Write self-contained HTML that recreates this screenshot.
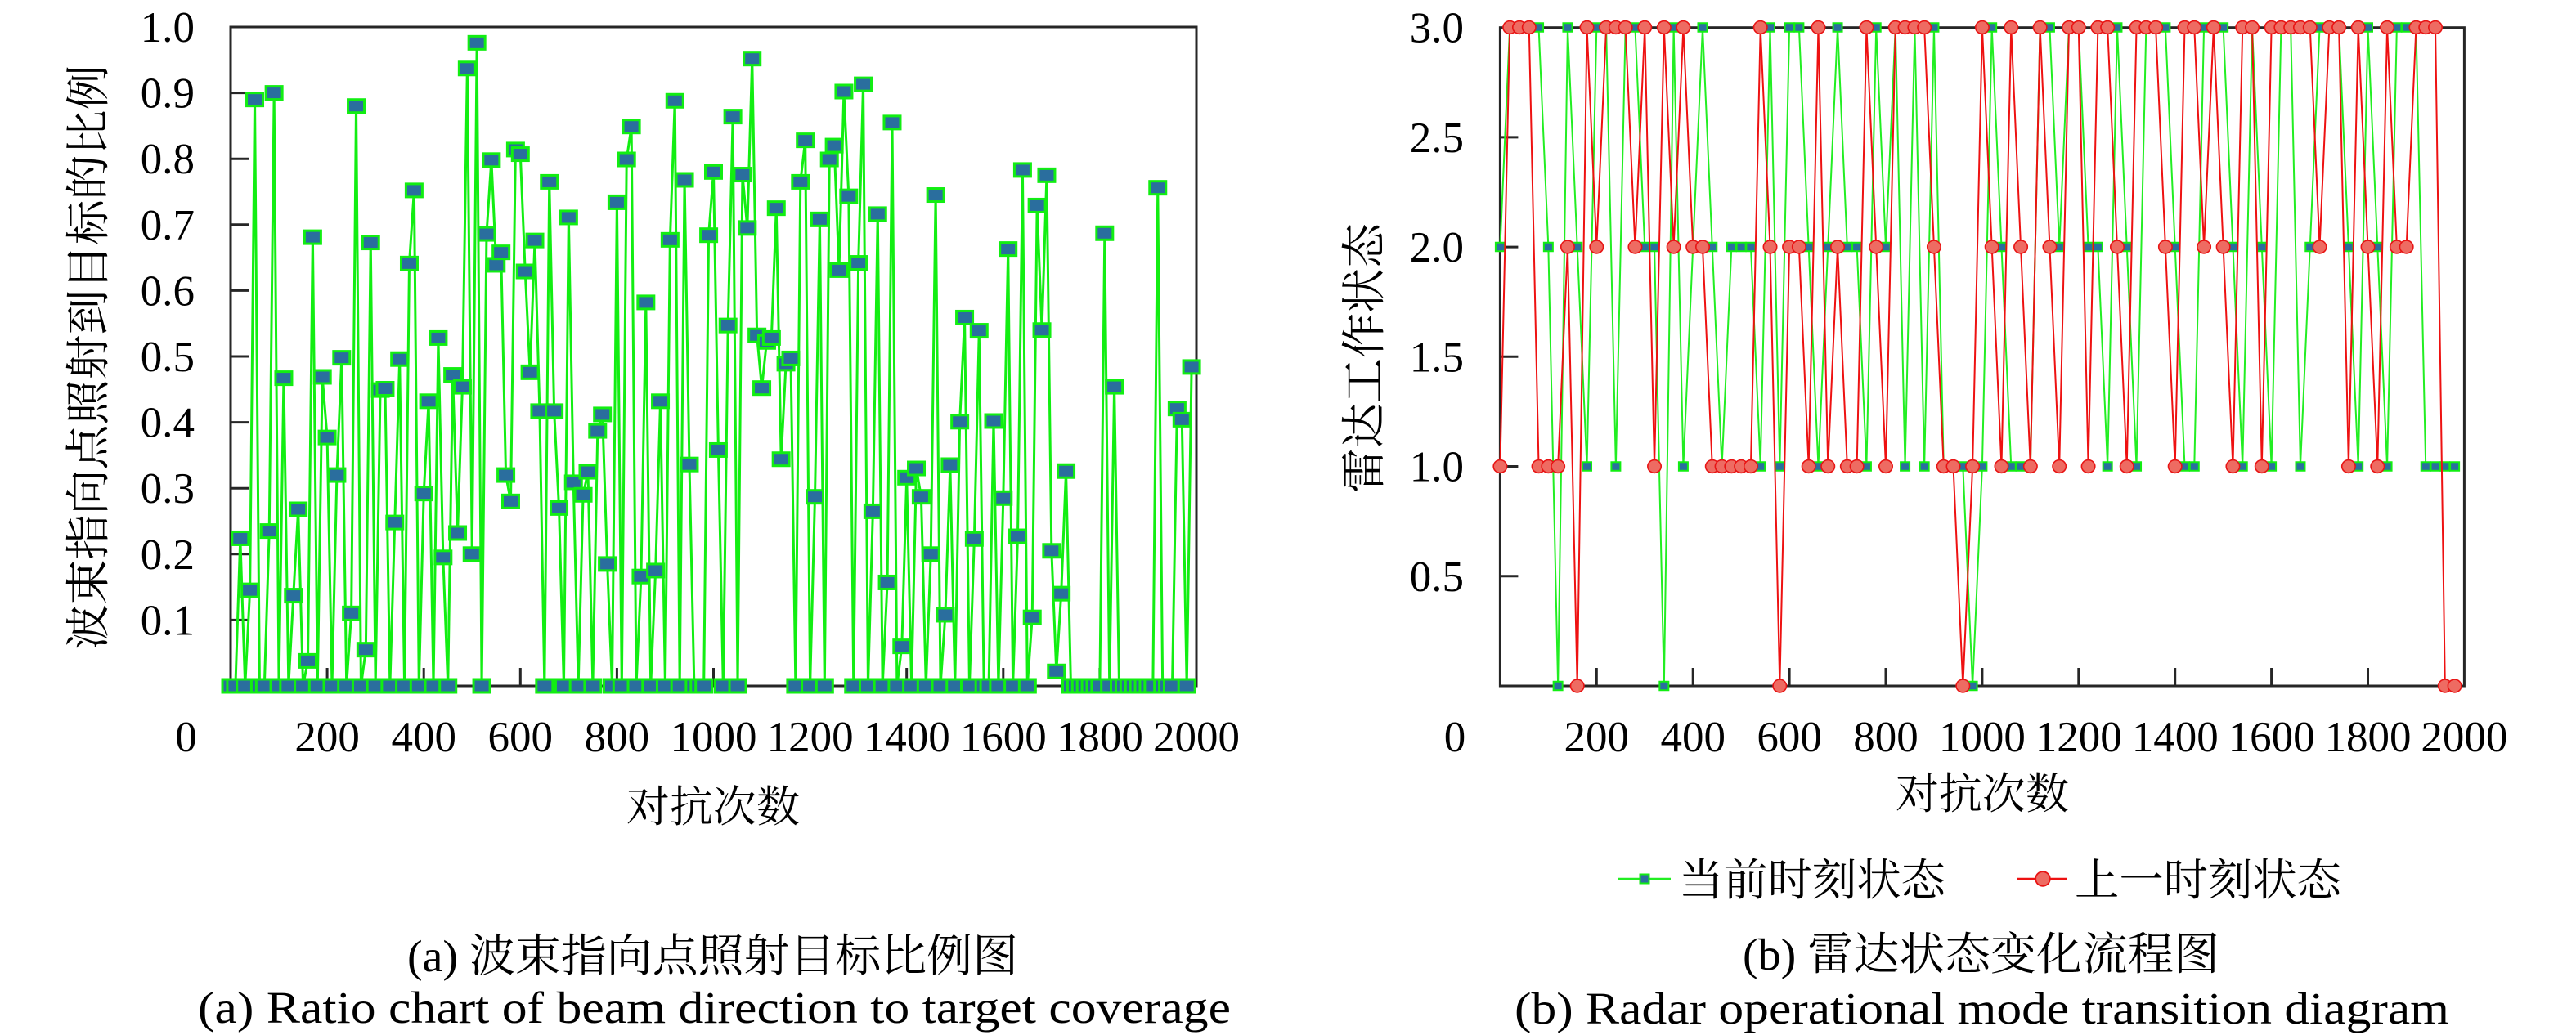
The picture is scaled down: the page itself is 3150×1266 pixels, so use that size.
<!DOCTYPE html>
<html>
<head>
<meta charset="utf-8">
<style>
html,body{margin:0;padding:0;background:#fff;width:3150px;height:1266px;overflow:hidden;}
svg{display:block;}
.t{font-family:"Liberation Serif","Noto Serif CJK SC",serif;fill:#000;}
</style>
</head>
<body>
<svg width="3150" height="1266" viewBox="0 0 3150 1266" xmlns="http://www.w3.org/2000/svg">
<defs>
  <marker id="mL" markerUnits="userSpaceOnUse" markerWidth="40" markerHeight="0.025" viewBox="-20 -0.0125 40 0.025" refX="0" refY="0" orient="0" overflow="visible">
    <rect x="-19.475" y="-0.011785" width="38.95" height="0.02357" fill="#12ee12"/>
    <rect x="-14.395" y="-0.008065" width="28.79" height="0.01613" fill="#2a6e9e"/>
  </marker>
  <marker id="mG" markerUnits="userSpaceOnUse" markerWidth="24" markerHeight="0.05" viewBox="-12 -0.025 24 0.05" refX="0" refY="0" orient="0" overflow="visible">
    <rect x="-11.025" y="-0.023275" width="22.05" height="0.04655" fill="#12ee12"/>
    <rect x="-7.635" y="-0.01583" width="15.27" height="0.03166" fill="#2a6e9e"/>
  </marker>
  <marker id="mR" markerUnits="userSpaceOnUse" markerWidth="32" markerHeight="0.066" viewBox="-16 -0.033 32 0.066" refX="0" refY="0" orient="0" overflow="visible">
    <ellipse cx="0" cy="0" rx="15.27" ry="0.0324" fill="#e81414"/>
    <ellipse cx="0" cy="0" rx="12.55" ry="0.0264" fill="#ee6b62"/>
  </marker>
</defs>

<!-- ================= LEFT CHART ================= -->
<g stroke="#262626" stroke-width="3" fill="none">
  <rect x="282" y="33" width="1181" height="806"/>
  <path d="M282 758.4h22M282 677.8h22M282 597.2h22M282 516.6h22M282 436h22M282 355.4h22M282 274.8h22M282 194.2h22M282 113.6h22"/>
  <path d="M400.1 839v-22M518.2 839v-22M636.3 839v-22M754.4 839v-22M872.5 839v-22M990.6 839v-22M1108.7 839v-22M1226.8 839v-22M1344.9 839v-22"/>
</g>

<g transform="translate(282,839) scale(0.5905,-806)">
  <polyline id="lp" fill="none" stroke="#12ee12" stroke-width="3" stroke-linejoin="round" vector-effect="non-scaling-stroke"
   points="0,0 10,0 20,.224 30,0 40,.145 50,.89 60,0 70,0 80,.235 90,.9 100,0 110,.467 120,0 130,.137 140,.268 150,0 160,.038 170,.681 180,0 190,.469 200,.377 210,0 220,.32 230,.498 240,0 250,.11 260,.88 270,0 280,.055 290,.673 300,0 310,.449 320,.451 330,0 340,.248 350,.496 360,0 370,.641 380,.752 390,0 400,.292 410,.432 420,0 430,.528 440,.195 450,0 460,.472 470,.232 480,.454 490,.937 500,.2 510,.976 520,0 530,.686 540,.798 550,.639 560,.658 570,.32 580,.28 590,.814 600,.807 610,.629 620,.476 630,.676 640,.417 650,0 660,.765 670,.417 680,.27 690,0 700,.711 710,.309 720,0 730,.29 740,.325 750,0 760,.387 770,.412 780,.185 790,0 800,.734 810,0 820,.799 830,.849 840,0 850,.166 860,.582 870,0 880,.175 890,.432 900,0 910,.677 920,.888 930,0 940,.768 950,.336 960,0 970,0 980,0 990,.684 1000,.78 1010,.358 1020,0 1030,.547 1040,.864 1050,0 1060,.776 1070,.695 1080,.952 1090,.532 1100,.452 1110,.522 1120,.528 1130,.725 1140,.344 1150,.489 1160,.497 1170,0 1180,.765 1190,.828 1200,0 1210,.287 1220,.708 1230,0 1240,.799 1250,.82 1260,.631 1270,.902 1280,.743 1290,0 1300,.642 1310,.913 1320,0 1330,.265 1340,.716 1350,0 1360,.157 1370,.855 1380,0 1390,.06 1400,.316 1410,0 1420,.33 1430,.287 1440,0 1450,.2 1460,.745 1470,0 1480,.108 1490,.335 1500,0 1510,.401 1520,.559 1530,0 1540,.223 1550,.539 1560,0 1570,0 1580,.402 1590,0 1600,.285 1610,.663 1620,0 1630,.227 1640,.783 1650,0 1660,.104 1670,.729 1680,.54 1690,.775 1700,.205 1710,.022 1720,.14 1730,.326 1740,0 1750,0 1760,0 1770,0 1780,0 1790,0 1800,0 1810,.687 1820,0 1830,.454 1840,0 1850,0 1860,0 1870,0 1880,0 1890,0 1900,0 1910,0 1920,.756 1930,0 1940,0 1950,0 1960,.421 1970,.404 1980,0 1990,.484"/>
  <polyline fill="none" stroke="none" marker-start="url(#mL)" marker-mid="url(#mL)" marker-end="url(#mL)"
   points="0,0 10,0 20,.224 30,0 40,.145 50,.89 60,0 70,0 80,.235 90,.9 100,0 110,.467 120,0 130,.137 140,.268 150,0 160,.038 170,.681 180,0 190,.469 200,.377 210,0 220,.32 230,.498 240,0 250,.11 260,.88 270,0 280,.055 290,.673 300,0 310,.449 320,.451 330,0 340,.248 350,.496 360,0 370,.641 380,.752 390,0 400,.292 410,.432 420,0 430,.528 440,.195 450,0 460,.472 470,.232 480,.454 490,.937 500,.2 510,.976 520,0 530,.686 540,.798 550,.639 560,.658 570,.32 580,.28 590,.814 600,.807 610,.629 620,.476 630,.676 640,.417 650,0 660,.765 670,.417 680,.27 690,0 700,.711 710,.309 720,0 730,.29 740,.325 750,0 760,.387 770,.412 780,.185 790,0 800,.734 810,0 820,.799 830,.849 840,0 850,.166 860,.582 870,0 880,.175 890,.432 900,0 910,.677 920,.888 930,0 940,.768 950,.336 960,0 970,0 980,0 990,.684 1000,.78 1010,.358 1020,0 1030,.547 1040,.864 1050,0 1060,.776 1070,.695 1080,.952 1090,.532 1100,.452 1110,.522 1120,.528 1130,.725 1140,.344 1150,.489 1160,.497 1170,0 1180,.765 1190,.828 1200,0 1210,.287 1220,.708 1230,0 1240,.799 1250,.82 1260,.631 1270,.902 1280,.743 1290,0 1300,.642 1310,.913 1320,0 1330,.265 1340,.716 1350,0 1360,.157 1370,.855 1380,0 1390,.06 1400,.316 1410,0 1420,.33 1430,.287 1440,0 1450,.2 1460,.745 1470,0 1480,.108 1490,.335 1500,0 1510,.401 1520,.559 1530,0 1540,.223 1550,.539 1560,0 1570,0 1580,.402 1590,0 1600,.285 1610,.663 1620,0 1630,.227 1640,.783 1650,0 1660,.104 1670,.729 1680,.54 1690,.775 1700,.205 1710,.022 1720,.14 1730,.326 1740,0 1750,0 1760,0 1770,0 1780,0 1790,0 1800,0 1810,.687 1820,0 1830,.454 1840,0 1850,0 1860,0 1870,0 1880,0 1890,0 1900,0 1910,0 1920,.756 1930,0 1940,0 1950,0 1960,.421 1970,.404 1980,0 1990,.484"/>
</g>

<g class="t" font-size="53" text-anchor="end">
  <text x="238" y="51">1.0</text>
  <text x="238" y="131.6">0.9</text>
  <text x="238" y="212.2">0.8</text>
  <text x="238" y="292.8">0.7</text>
  <text x="238" y="373.4">0.6</text>
  <text x="238" y="454">0.5</text>
  <text x="238" y="534.6">0.4</text>
  <text x="238" y="615.2">0.3</text>
  <text x="238" y="695.8">0.2</text>
  <text x="238" y="776.4">0.1</text>
</g>
<g class="t" font-size="53" text-anchor="middle">
  <text x="227.5" y="919">0</text>
  <text x="400.1" y="919">200</text>
  <text x="518.2" y="919">400</text>
  <text x="636.3" y="919">600</text>
  <text x="754.4" y="919">800</text>
  <text x="872.5" y="919">1000</text>
  <text x="990.6" y="919">1200</text>
  <text x="1108.7" y="919">1400</text>
  <text x="1226.8" y="919">1600</text>
  <text x="1344.9" y="919">1800</text>
  <text x="1463" y="919">2000</text>
</g>
<text class="t" font-size="55" text-anchor="middle" transform="translate(127,437) rotate(-90)" x="0" y="0">波束指向点照射到目标的比例</text>
<text class="t" font-size="53" text-anchor="middle" x="872" y="1005">对抗次数</text>

<text class="t" font-size="55" x="498" y="1188" textLength="747" lengthAdjust="spacingAndGlyphs">(a) 波束指向点照射目标比例图</text>
<text class="t" font-size="55" x="242" y="1251" textLength="1263" lengthAdjust="spacingAndGlyphs">(a) Ratio chart of beam direction to target coverage</text>

<!-- ================= RIGHT CHART ================= -->
<g stroke="#262626" stroke-width="3" fill="none">
  <rect x="1834.4" y="33.7" width="1179" height="805.3"/>
  <path d="M1834.4 704.8h22M1834.4 570.5h22M1834.4 436.3h22M1834.4 302.1h22M1834.4 167.9h22"/>
  <path d="M1952.3 839v-22M2070.2 839v-22M2188.1 839v-22M2306 839v-22M2423.9 839v-22M2541.8 839v-22M2659.7 839v-22M2777.6 839v-22M2895.5 839v-22"/>
</g>

<g transform="translate(1834.4,839) scale(0.5895,-268.5)">
  <polyline fill="none" stroke="#22ee22" stroke-width="2" stroke-linejoin="round" vector-effect="non-scaling-stroke"
   points="0,2 20,3 40,3 60,3 80,3 100,2 120,0 140,3 160,2 180,1 200,3 220,3 240,1 260,3 280,3 300,2 320,2 340,0 360,3 380,1 400,2 420,3 440,2 460,1 480,2 500,2 520,2 540,1 560,3 580,1 600,3 620,3 640,2 660,1 680,2 700,3 720,2 740,2 760,1 780,3 800,2 820,3 840,1 860,3 880,1 900,3 920,1 940,1 960,1 980,0 1000,1 1020,3 1040,2 1060,1 1080,1 1100,1 1120,3 1140,3 1160,2 1180,3 1200,3 1220,2 1240,2 1260,1 1280,3 1300,2 1320,1 1340,3 1360,3 1380,3 1400,2 1420,1 1440,1 1460,3 1480,3 1500,3 1520,2 1540,1 1560,3 1580,2 1600,1 1620,3 1640,3 1660,1 1680,2 1700,3 1720,3 1740,3 1760,2 1780,1 1800,3 1820,2 1840,1 1860,3 1880,3 1900,3 1920,1 1940,1 1960,1 1980,1"/>
  <polyline fill="none" stroke="none" marker-start="url(#mG)" marker-mid="url(#mG)" marker-end="url(#mG)"
   points="0,2 20,3 40,3 60,3 80,3 100,2 120,0 140,3 160,2 180,1 200,3 220,3 240,1 260,3 280,3 300,2 320,2 340,0 360,3 380,1 400,2 420,3 440,2 460,1 480,2 500,2 520,2 540,1 560,3 580,1 600,3 620,3 640,2 660,1 680,2 700,3 720,2 740,2 760,1 780,3 800,2 820,3 840,1 860,3 880,1 900,3 920,1 940,1 960,1 980,0 1000,1 1020,3 1040,2 1060,1 1080,1 1100,1 1120,3 1140,3 1160,2 1180,3 1200,3 1220,2 1240,2 1260,1 1280,3 1300,2 1320,1 1340,3 1360,3 1380,3 1400,2 1420,1 1440,1 1460,3 1480,3 1500,3 1520,2 1540,1 1560,3 1580,2 1600,1 1620,3 1640,3 1660,1 1680,2 1700,3 1720,3 1740,3 1760,2 1780,1 1800,3 1820,2 1840,1 1860,3 1880,3 1900,3 1920,1 1940,1 1960,1 1980,1"/>
  <polyline fill="none" stroke="#ee1111" stroke-width="2" stroke-linejoin="round" vector-effect="non-scaling-stroke"
   points="0,1 20,3 40,3 60,3 80,1 100,1 120,1 140,2 160,0 180,3 200,2 220,3 240,3 260,3 280,2 300,3 320,1 340,3 360,2 380,3 400,2 420,2 440,1 460,1 480,1 500,1 520,1 540,3 560,2 580,0 600,2 620,2 640,1 660,3 680,1 700,2 720,1 740,1 760,3 780,2 800,1 820,3 840,3 860,3 880,3 900,2 920,1 940,1 960,0 980,1 1000,3 1020,2 1040,1 1060,3 1080,2 1100,1 1120,3 1140,2 1160,1 1180,3 1200,3 1220,1 1240,3 1260,3 1280,2 1300,1 1320,3 1340,3 1360,3 1380,2 1400,1 1420,3 1440,3 1460,2 1480,3 1500,2 1520,1 1540,3 1560,3 1580,1 1600,3 1620,3 1640,3 1660,3 1680,3 1700,2 1720,3 1740,3 1760,1 1780,3 1800,2 1820,1 1840,3 1860,2 1880,2 1900,3 1920,3 1940,3 1960,0 1980,0"/>
  <polyline fill="none" stroke="none" marker-start="url(#mR)" marker-mid="url(#mR)" marker-end="url(#mR)"
   points="0,1 20,3 40,3 60,3 80,1 100,1 120,1 140,2 160,0 180,3 200,2 220,3 240,3 260,3 280,2 300,3 320,1 340,3 360,2 380,3 400,2 420,2 440,1 460,1 480,1 500,1 520,1 540,3 560,2 580,0 600,2 620,2 640,1 660,3 680,1 700,2 720,1 740,1 760,3 780,2 800,1 820,3 840,3 860,3 880,3 900,2 920,1 940,1 960,0 980,1 1000,3 1020,2 1040,1 1060,3 1080,2 1100,1 1120,3 1140,2 1160,1 1180,3 1200,3 1220,1 1240,3 1260,3 1280,2 1300,1 1320,3 1340,3 1360,3 1380,2 1400,1 1420,3 1440,3 1460,2 1480,3 1500,2 1520,1 1540,3 1560,3 1580,1 1600,3 1620,3 1640,3 1660,3 1680,3 1700,2 1720,3 1740,3 1760,1 1780,3 1800,2 1820,1 1840,3 1860,2 1880,2 1900,3 1920,3 1940,3 1960,0 1980,0"/>
</g>

<g class="t" font-size="53" text-anchor="end">
  <text x="1790" y="51.7">3.0</text>
  <text x="1790" y="185.9">2.5</text>
  <text x="1790" y="320.1">2.0</text>
  <text x="1790" y="454.3">1.5</text>
  <text x="1790" y="588.5">1.0</text>
  <text x="1790" y="722.8">0.5</text>
</g>
<g class="t" font-size="53" text-anchor="middle">
  <text x="1779" y="919">0</text>
  <text x="1952.3" y="919">200</text>
  <text x="2070.2" y="919">400</text>
  <text x="2188.1" y="919">600</text>
  <text x="2306" y="919">800</text>
  <text x="2423.9" y="919">1000</text>
  <text x="2541.8" y="919">1200</text>
  <text x="2659.7" y="919">1400</text>
  <text x="2777.6" y="919">1600</text>
  <text x="2895.5" y="919">1800</text>
  <text x="3013.4" y="919">2000</text>
</g>
<text class="t" font-size="55" text-anchor="middle" transform="translate(1687,438) rotate(-90)" x="0" y="0">雷达工作状态</text>
<text class="t" font-size="53" text-anchor="middle" x="2424" y="989">对抗次数</text>

<!-- legend -->
<line x1="1979" y1="1075" x2="2043" y2="1075" stroke="#22ee22" stroke-width="2.5"/>
<rect x="2004.5" y="1068.5" width="13" height="13" fill="#12ee12"/>
<rect x="2006.5" y="1070.5" width="9" height="9" fill="#2a6e9e"/>
<text class="t" font-size="54" x="2053" y="1095" textLength="326" lengthAdjust="spacingAndGlyphs">当前时刻状态</text>
<line x1="2466" y1="1075" x2="2528" y2="1075" stroke="#ee1111" stroke-width="2.5"/>
<circle cx="2498" cy="1075" r="8.8" fill="#ee6b62" stroke="#e81414" stroke-width="1.8"/>
<text class="t" font-size="54" x="2537" y="1095" textLength="326" lengthAdjust="spacingAndGlyphs">上一时刻状态</text>

<text class="t" font-size="55" x="2131" y="1186" textLength="583" lengthAdjust="spacingAndGlyphs">(b) 雷达状态变化流程图</text>
<text class="t" font-size="55" x="1852" y="1252" textLength="1143" lengthAdjust="spacingAndGlyphs">(b) Radar operational mode transition diagram</text>
</svg>
</body>
</html>
